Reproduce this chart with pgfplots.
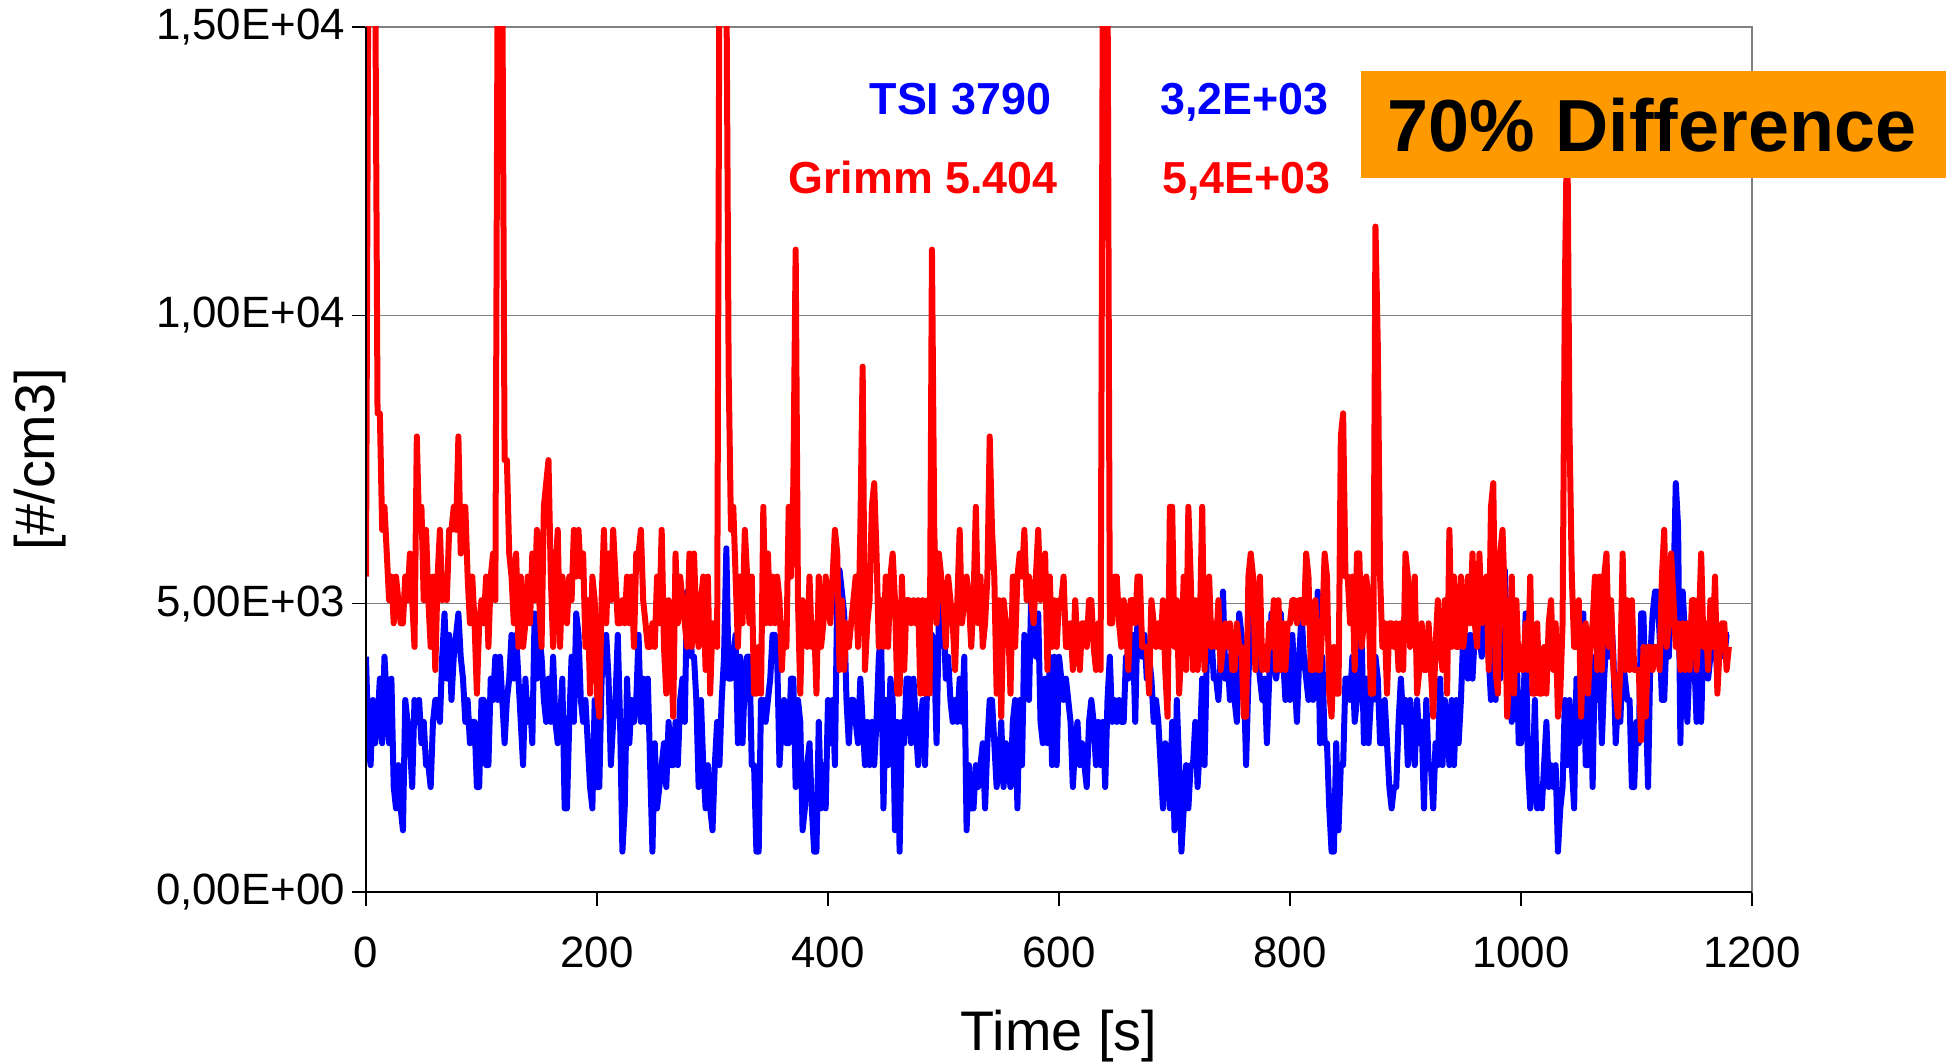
\documentclass[border=0pt]{standalone}
\usepackage{fontspec}
\setmainfont{Liberation Sans}
\usepackage{pgfplots}
\usepackage{pgfplotstable}
\pgfplotsset{compat=1.18}
\definecolor{boxorange}{RGB}{255,153,0}
\pgfplotstableread{
t tsi grimm
0 4080 5470
2 2580 16000
4 2200 18000
6 3330 17000
8 2580 16000
10 2950 8300
12 3700 8300
14 2580 6280
16 4080 6680
18 3330 5870
20 2580 5060
22 3700 5470
24 1820 4660
26 1450 5470
28 2200 5060
30 1450 4660
32 1070 4660
34 3330 5470
36 2950 5060
38 2580 5870
40 1820 5060
42 3330 4250
44 2950 7900
46 3330 6280
48 2580 6680
50 2950 5060
52 2200 6280
54 2200 5060
56 1820 4250
58 2950 5470
60 3330 3850
62 3330 5470
64 2950 6280
66 4080 5060
68 4830 5470
70 3700 5060
72 4460 6280
74 3330 6280
76 4080 6680
78 4460 6280
80 4830 7900
82 4080 5870
84 3700 6680
86 2950 6680
88 3330 5470
90 2580 4660
92 2950 5470
94 2950 4660
96 1820 3440
98 1820 4660
100 3330 5060
102 3330 4660
104 2200 5470
106 2200 4250
108 3700 5470
110 3330 5870
112 4080 5060
114 3330 16000
116 4080 16000
118 3330 16000
120 2580 7490
122 3330 7490
124 3700 5870
126 4460 5470
128 3700 4660
130 4460 5870
132 3700 4250
134 2950 5470
136 2200 4250
138 3700 4660
140 2950 5470
142 3330 4660
144 2580 5870
146 4830 5060
148 3700 6280
150 4460 5060
152 4080 4250
154 3330 6680
156 2950 7090
158 3700 7490
160 2950 5470
162 4080 4250
164 2950 5470
166 2580 6280
168 2950 4250
170 3700 5470
172 1450 5060
174 1450 4660
176 2950 5470
178 4080 5060
180 2950 6280
182 4830 5470
184 4460 6280
186 3330 5470
188 2950 5870
190 3330 4250
192 2580 5060
194 1820 3440
196 1450 5470
198 3330 5060
200 1820 3440
202 1820 3040
204 3700 5060
206 4080 6280
208 4460 4660
210 3700 5870
212 2200 5060
214 2950 6280
216 3330 5470
218 4460 4660
220 2950 4660
222 700 5060
224 1450 4660
226 3700 5470
228 2580 4660
230 3330 5470
232 2950 4250
234 3330 5870
236 4460 5870
238 2950 6280
240 3700 5060
242 2950 4660
244 3700 4250
246 2200 4250
248 700 4660
250 2580 4250
252 1450 5470
254 1820 4660
256 2200 6280
258 2580 4250
260 1820 3440
262 2950 5060
264 2200 4250
266 2200 3040
268 2950 5870
270 2200 4660
272 3330 5470
274 3700 5060
276 2950 4660
278 5210 4250
280 5210 5870
282 4080 4250
284 4080 5870
286 3330 4660
288 1820 4250
290 3330 5060
292 2200 5470
294 1450 3850
296 2200 5470
298 1450 3440
300 1070 4660
302 2200 4660
304 2950 4250
306 2200 16000
308 3330 16000
310 4080 16000
312 5960 16000
314 3700 9000
316 3700 6280
318 4080 6680
320 4460 5470
322 2580 4250
324 4080 5470
326 2580 4660
328 3700 6280
330 4080 5470
332 4080 4660
334 2200 5470
336 2200 3440
338 700 3440
340 700 4250
342 3330 3440
344 3330 6680
346 2950 4660
348 3330 5870
350 3700 4660
352 4460 5470
354 4460 4660
356 4080 5470
358 2200 5060
360 2950 3850
362 3330 4660
364 2580 4250
366 2580 6680
368 3700 5470
370 3700 7090
372 1820 11140
374 3330 5060
376 2950 3440
378 1070 5060
380 1450 4660
382 2200 4250
384 2580 5470
386 1450 4250
388 700 4660
390 700 3440
392 2950 5470
394 1450 4250
396 2200 4660
398 1450 5470
400 3330 5060
402 2580 4660
404 3330 5470
406 2200 6280
408 5210 5870
410 5580 3850
412 5210 5060
414 4830 3850
416 3330 4660
418 2580 4250
420 3330 4660
422 3330 5060
424 2950 5470
426 2580 4250
428 3700 6280
430 2950 9110
432 2200 3850
434 2950 4660
436 2200 5060
438 2950 6680
440 2200 7090
442 2950 5870
444 4080 4250
446 4460 5060
448 1450 4250
450 3330 5470
452 2200 4250
454 3700 5470
456 3330 5870
458 1070 5060
460 2950 3440
462 700 3440
464 2950 5470
466 2580 3850
468 3700 5060
470 3700 5060
472 2580 4660
474 3700 5060
476 2950 4660
478 2200 5060
480 2950 3440
482 3330 5060
484 2200 3440
486 3700 5060
488 4080 3440
490 4460 11140
492 4080 6280
494 2580 4660
496 4830 5870
498 5210 5470
500 4830 5060
502 3700 4250
504 4080 5470
506 3330 5060
508 2950 4660
510 3330 3850
512 2950 5060
514 3700 6280
516 2950 4660
518 4080 5060
520 1070 5470
522 2200 5060
524 1450 4250
526 1450 5060
528 2200 6680
530 1820 4660
532 2200 5470
534 2580 4250
536 1450 4660
538 2580 5470
540 3330 7900
542 3330 6280
544 2580 5470
546 1820 3440
548 2200 5060
550 2950 3040
552 1820 5060
554 2580 4660
556 2200 4660
558 1820 3440
560 2950 5470
562 3330 4250
564 1450 5470
566 3330 5870
568 2200 5470
570 4460 6280
572 4080 5060
574 3330 5470
576 5210 5060
578 4830 4660
580 4080 5470
582 4830 6280
584 2950 5060
586 2580 5470
588 3700 5870
590 2580 3850
592 4080 5470
594 2200 4250
596 4080 5060
598 2200 4250
600 4080 5060
602 3700 5060
604 3330 5470
606 3700 4250
608 3330 4250
610 2950 4660
612 1820 3850
614 2580 5060
616 2950 4250
618 2200 3850
620 2580 4660
622 2200 4660
624 1820 4250
626 2950 5060
628 3330 5060
630 2950 4250
632 2200 3850
634 2950 4660
636 2200 3850
638 2950 16000
640 1820 16000
642 3330 16000
644 4080 4660
646 2950 4660
648 3330 5470
650 2950 5470
652 3330 4660
654 2950 4250
656 2950 5060
658 4080 4660
660 3700 3850
662 4080 5060
664 4460 5060
666 2950 4660
668 4830 5470
670 4460 5470
672 4080 4250
674 4460 4250
676 3700 4250
678 4080 3440
680 3700 5060
682 2950 4660
684 3330 4250
686 2950 4660
688 2200 4250
690 1450 5060
692 2580 3850
694 2200 3040
696 1450 6680
698 2950 6680
700 1070 4250
702 3330 5060
704 2200 3440
706 700 4250
708 1450 5470
710 2200 3850
712 1450 6680
714 2200 5470
716 2200 3850
718 2950 5060
720 1820 3850
722 2580 4660
724 3700 6680
726 2200 3850
728 4080 5060
730 4080 5470
732 4460 4250
734 3700 4660
736 3700 4250
738 3330 5060
740 4080 3850
742 5210 4250
744 3700 4660
746 4080 4250
748 3330 4660
750 4460 3850
752 3330 3850
754 2950 4660
756 4830 4250
758 4460 4250
760 3700 3040
762 2200 3040
764 3700 5470
766 4830 5870
768 4080 5470
770 4460 3850
772 4080 5060
774 3700 5470
776 3330 3850
778 3700 4250
780 2580 3850
782 3700 4660
784 4830 4250
786 4080 5060
788 3700 3850
790 4080 5060
792 4830 3850
794 4080 4660
796 3330 3850
798 4460 4660
800 3330 4660
802 4460 5060
804 3700 5060
806 2950 4660
808 4080 5060
810 4830 5060
812 4080 4660
814 3700 5870
816 3330 5470
818 4080 3850
820 3330 3850
822 4080 5060
824 5210 3850
826 2580 3850
828 4080 4660
830 2580 5870
832 2580 5470
834 1450 3440
836 700 3040
838 700 4250
840 2580 3440
842 1070 3440
844 2200 7900
846 2200 8300
848 3700 5470
850 3700 5470
852 3330 4660
854 4080 5470
856 2950 3850
858 3330 5870
860 4460 5870
862 4460 4250
864 2580 4660
866 3700 5470
868 2580 5060
870 3330 3440
872 3330 3440
874 4080 11540
876 3700 9500
878 2580 5470
880 2580 4250
882 3330 4660
884 2580 3440
886 1820 4660
888 1450 4660
890 1820 4250
892 1820 4660
894 2950 3850
896 3700 4660
898 2950 3850
900 3330 5870
902 2200 5470
904 3330 4250
906 2580 5060
908 2200 5470
910 3330 3440
912 2580 3850
914 2950 4660
916 1450 3850
918 3330 3850
920 2200 4660
922 2200 3850
924 1450 3040
926 2580 4250
928 2200 5060
930 3700 4250
932 2200 3850
934 3330 5060
936 2950 3440
938 2200 6280
940 3330 4250
942 2200 5470
944 3330 4250
946 2580 4250
948 3330 5470
950 4460 4250
952 4460 4660
954 3700 5470
956 4460 4660
958 3700 5870
960 4460 4660
962 4460 4250
964 4460 5870
966 4080 4660
968 5210 5060
970 4830 5470
972 4080 3850
974 3330 6680
976 4830 7090
978 3330 3850
980 5210 3440
982 3700 5870
984 4830 6280
986 5580 5060
988 4080 3040
990 3330 3850
992 2950 5470
994 4830 3440
996 4460 5060
998 2580 3850
1000 2580 4250
1002 2950 3850
1004 4830 4660
1006 2200 3850
1008 1450 5470
1010 1820 3440
1012 3330 3440
1014 1450 4660
1016 1820 3440
1018 1450 3440
1020 2200 4250
1022 2950 3440
1024 1820 4660
1026 2200 5060
1028 1820 3850
1030 2200 4660
1032 700 3040
1034 1450 3440
1036 1820 4660
1038 3330 10500
1040 2200 13600
1042 3330 8000
1044 2200 5470
1046 1450 4250
1048 3700 4250
1050 2580 5060
1052 3330 3040
1054 4830 4250
1056 2200 4660
1058 2200 3440
1060 4080 4250
1062 1820 4660
1064 4080 5470
1066 3330 3850
1068 4080 5470
1070 2580 3850
1072 3700 5470
1074 4460 5870
1076 4080 4250
1078 4830 5060
1080 4080 3850
1082 2580 3440
1084 3330 3040
1086 2950 3850
1088 4080 5870
1090 3700 3850
1092 3330 5060
1094 3330 3850
1096 1820 5060
1098 1820 3850
1100 2950 3850
1102 2580 3850
1104 4830 2630
1106 4830 4250
1108 3330 3040
1110 1820 4250
1112 4080 4250
1114 4830 3850
1116 5210 4250
1118 5210 4250
1120 4460 3850
1122 3330 5470
1124 3330 6280
1126 4460 4250
1128 4080 4660
1130 5580 5870
1132 5210 5060
1134 7090 4250
1136 6340 4660
1138 2580 3850
1140 5210 4660
1142 4460 3850
1144 2950 4660
1146 4080 3850
1148 4830 5060
1150 4080 5060
1152 2950 3850
1154 4830 4660
1156 2950 5870
1158 4460 4250
1160 4080 4660
1162 3700 3850
1164 4080 5060
1166 4830 4250
1168 4460 5470
1170 3700 3440
1172 4460 4250
1174 4460 4660
1176 4080 4660
1178 4460 3850
1180 4460 4250
}\datatable

\begin{document}
\begin{tikzpicture}
\useasboundingbox (-183bp,-86bp) rectangle (790bp,446bp);
\begin{axis}[
  scale only axis, width=693bp, height=432.5bp,
  at={(0,0)}, anchor=south west,
  xmin=0, xmax=1200, ymin=0, ymax=15000,
  scaled ticks=false,
  xtick={0,200,400,600,800,1000,1200},
  xticklabels={0,200,400,600,800,1000,1200},
  ytick={0,5000,10000,15000},
  yticklabels={{0,00E+00},{5,00E+03},{1,00E+04},{1,50E+04}},
  tick pos=left, tick align=outside,
  major tick length=7bp,
  tick style={black, line width=0.6bp},
  ymajorgrids, grid style={gray, line width=0.6bp},
  axis line style={gray, line width=0.8bp},
  ticklabel style={font=\fontsize{22}{26}\selectfont},
  xticklabel style={yshift=-12bp},
  xlabel={Time [s]}, ylabel={[\#/cm3]},
  xlabel style={font=\fontsize{28}{32}\selectfont, at={(axis description cs:0.5,-0.167)}, anchor=center},
  ylabel style={font=\fontsize{28}{32}\selectfont, at={(axis description cs:-0.235,0.5)}, anchor=center},
]
\addplot[blue, line width=3bp, line join=round] table[x=t, y=tsi] {\datatable};
\addplot[red, line width=3bp, line join=round] table[x=t, y=grimm] {\datatable};
\end{axis}
\draw[black, line width=1bp] (0,432.5bp) -- (0,0) -- (693bp,0);
\node[anchor=base east, inner sep=0pt, text=blue, font=\bfseries\fontsize{22.5}{26}\selectfont] at (343bp,388.5bp) {TSI 3790};
\node[anchor=base east, inner sep=0pt, text=red, font=\bfseries\fontsize{22.5}{26}\selectfont] at (346bp,349.3bp) {Grimm 5.404};
\node[anchor=base east, inner sep=0pt, text=blue, font=\bfseries\fontsize{22.5}{26}\selectfont] at (481.5bp,388.5bp) {3,2E+03};
\node[anchor=base east, inner sep=0pt, text=red, font=\bfseries\fontsize{22.5}{26}\selectfont] at (482.5bp,349.3bp) {5,4E+03};
\fill[boxorange] (497.5bp,357.2bp) rectangle (790bp,410.5bp);
\node[font=\bfseries\fontsize{37}{40}\selectfont] at (643bp,383.5bp) {70\% Difference};
\end{tikzpicture}
\end{document}
